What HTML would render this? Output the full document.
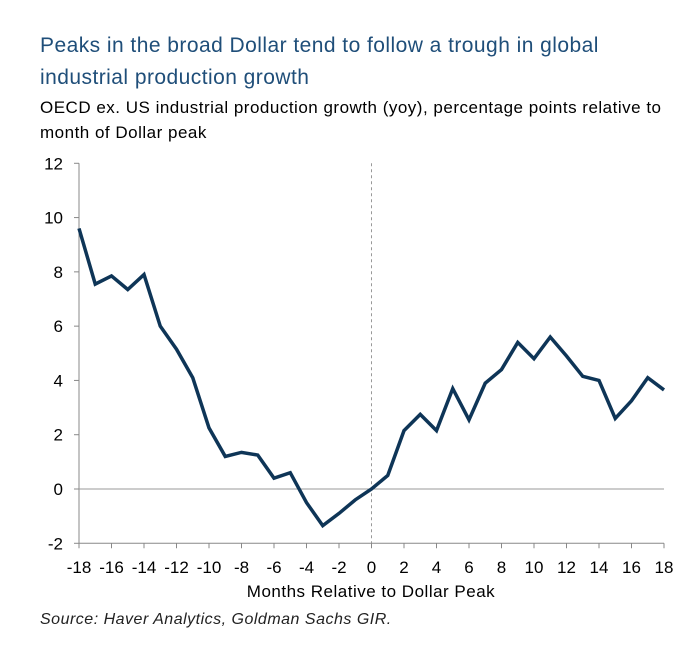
<!DOCTYPE html>
<html><head><meta charset="utf-8"><style>
body{margin:0;background:#fff;font-family:"Liberation Sans",sans-serif;}
#wrap{position:relative;width:700px;height:648px;overflow:hidden;}
.t{position:absolute;white-space:nowrap;}
</style></head><body>
<div id="wrap">
<div class="t" style="left:40px;top:30px;font-size:21px;letter-spacing:0.45px;color:#1f4e79;line-height:32px;">Peaks in the broad Dollar tend to follow a trough in global<br>industrial production growth</div>
<div class="t" style="left:40px;top:95px;font-size:17px;letter-spacing:0.5px;color:#000;line-height:25px;">OECD ex. US industrial production growth (yoy), percentage points relative to<br>month of Dollar peak</div>
<svg id="svg" width="700" height="648" style="position:absolute;left:0;top:0"></svg>
<div class="t" style="left:40px;top:611px;font-size:16px;letter-spacing:0.5px;font-style:italic;color:#222;">Source: Haver Analytics, Goldman Sachs GIR.</div>
</div>
<script>
const months=[-18,-17,-16,-15,-14,-13,-12,-11,-10,-9,-8,-7,-6,-5,-4,-3,-2,-1,0,1,2,3,4,5,6,7,8,9,10,11,12,13,14,15,16,17,18];
const values=[9.6,7.55,7.85,7.35,7.9,6.0,5.15,4.1,2.25,1.2,1.35,1.25,0.4,0.6,-0.5,-1.35,-0.9,-0.4,0,0.5,2.15,2.75,2.15,3.7,2.55,3.9,4.4,5.4,4.8,5.6,4.9,4.15,4.0,2.6,3.25,4.1,3.65];
const yTicks=[12,10,8,6,4,2,0,-2];
const xTicks=[-18,-16,-14,-12,-10,-8,-6,-4,-2,0,2,4,6,8,10,12,14,16,18];
const NS='http://www.w3.org/2000/svg';
const svg=document.getElementById('svg');
const X=m=>79+(m+18)*(585/36);
const Y=v=>489-v*(380/14);
function mk(t,a){const e=document.createElementNS(NS,t);for(const k in a)e.setAttribute(k,a[k]);svg.appendChild(e);return e;}
let e;
e=mk('line',{x1:79,y1:Y(12),x2:79,y2:Y(-2),stroke:'#888','stroke-width':1});


e=mk('line',{x1:79,y1:Y(-2),x2:664,y2:Y(-2),stroke:'#888','stroke-width':1});


e=mk('line',{x1:79,y1:Y(0),x2:664,y2:Y(0),stroke:'#999','stroke-width':1});


e=mk('line',{x1:X(0),y1:Y(12),x2:X(0),y2:Y(-2),stroke:'#999','stroke-width':1,'stroke-dasharray':'3,3'});


yTicks.forEach(v=>{
 mk('line',{x1:74,y1:Y(v),x2:79,y2:Y(v),stroke:'#888'});
 const t=mk('text',{x:63,y:Y(v)+6,'text-anchor':'end','font-size':17,fill:'#000','font-family':'Liberation Sans, sans-serif'});
 t.textContent=v;
 
 
});
xTicks.forEach(m=>{
 mk('line',{x1:X(m),y1:Y(-2),x2:X(m),y2:Y(-2)+5,stroke:'#888'});
 const t=mk('text',{x:X(m),y:573,'text-anchor':'middle','font-size':17,fill:'#000','font-family':'Liberation Sans, sans-serif'});
 t.textContent=m;
 
 
});
e=mk('text',{x:371,y:597,'text-anchor':'middle','font-size':17,'letter-spacing':'0.5',fill:'#000','font-family':'Liberation Sans, sans-serif'});
e.textContent='Months Relative to Dollar Peak';


e=mk('polyline',{points:months.map((m,i)=>X(m)+','+Y(values[i])).join(' '),fill:'none',stroke:'#0e3557','stroke-width':3.5,'stroke-linejoin':'miter'});


</script>
</body></html>
